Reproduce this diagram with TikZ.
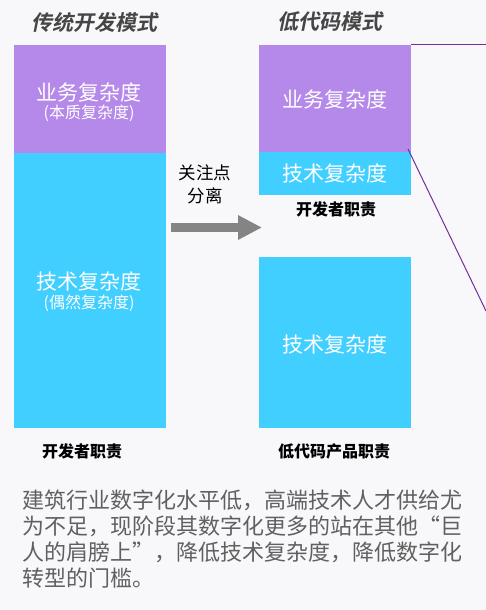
\documentclass[tikz,border=0pt]{standalone}
\usepackage{fontspec}
\setmainfont{Noto Sans CJK SC}
\newfontfamily\cjkb[FakeSlant=0.2]{Noto Sans CJK SC Bold}
\usetikzlibrary{arrows.meta}
\definecolor{purp}{HTML}{B589E9}
\definecolor{cyanbox}{HTML}{40CFFF}
\definecolor{titlegray}{HTML}{454545}
\definecolor{textgray}{HTML}{606060}
\definecolor{linepurple}{HTML}{7030A0}
\definecolor{bgcol}{HTML}{F8F8FB}
\definecolor{arrowgray}{HTML}{848484}
\tikzset{
  box/.style={rectangle, inner sep=0pt, minimum width=152pt},
  boxtext/.style={text=white, font=\fontsize{21}{24}\selectfont, inner sep=0pt},
  subtext/.style={text=white, font=\fontsize{16}{18}\selectfont, inner sep=0pt},
  ttl/.style={text=titlegray, font=\cjkb\fontsize{21}{24}\selectfont, inner sep=0pt},
  resp/.style={text=black, font=\bfseries\fontsize{16}{18}\selectfont, inner sep=0pt},
}
\begin{document}
\begin{tikzpicture}[x=1pt,y=-1pt]
\fill[bgcol] (0,0) rectangle (486,610);
\useasboundingbox (0,0) rectangle (486,610);

% titles
\node[ttl] (t1) at (94,22) {传统开发模式};
\node[ttl] (t2) at (330,22) {低代码模式};

% left column
\node[box, fill=purp, minimum height=108pt] (lbiz) at (90,99) {};
\node[box, fill=cyanbox, minimum height=275pt] (ltech) at (90,290.5) {};
\node[boxtext] (lbizt) at (89,92) {业务复杂度};
\node[subtext] (lbizs) at (89,113) {(本质复杂度)};
\node[boxtext] (ltecht) at (89,281) {技术复杂度};
\node[subtext] (ltechs) at (89,303) {(偶然复杂度)};
\node[resp] (lresp) at (82,451) {开发者职责};

% right column
\node[box, fill=purp, minimum height=107pt] (rbiz) at (335,98.5) {};
\node[box, fill=cyanbox, minimum height=43pt] (rtech1) at (335,173.5) {};
\node[box, fill=cyanbox, minimum height=171pt] (rtech2) at (335,342.5) {};
\node[boxtext] (rbizt) at (335,99) {业务复杂度};
\node[boxtext] (rtech1t) at (335,173) {技术复杂度};
\node[resp] (rresp1) at (336,209) {开发者职责};
\node[boxtext] (rtech2t) at (335,344) {技术复杂度};
\node[resp] (rresp2) at (334,451) {低代码产品职责};

% separation label and arrow
\node[text=black, font=\fontsize{17.5}{23}\selectfont, align=center, inner sep=0pt] (sep) at (205,184) {关注点\\分离};
\coordinate (as) at (171,227.5);
\coordinate (ae) at (262,227.5);
\draw[arrowgray, line width=9pt, -{Triangle[length=24pt,width=23pt]}] (as) -- (ae);

% purple callout lines
\coordinate (p1) at (411,45);
\coordinate (p2) at (486,45);
\coordinate (p3) at (408,149);
\coordinate (p4) at (486,311);
\draw[linepurple, line width=1pt] (p1) -- (p2);
\draw[linepurple, line width=1pt] (p3) -- (p4);

% bottom text
\node[text=textgray, font=\fontsize{22}{26}\selectfont, align=left, anchor=north west, inner sep=0pt] (body) at (22,490) {建筑行业数字化水平低，高端技术人才供给尤\\为不足，现阶段其数字化更多的站在其他“巨\\人的肩膀上”，降低技术复杂度，降低数字化\\转型的门槛。};
\end{tikzpicture}
\end{document}
